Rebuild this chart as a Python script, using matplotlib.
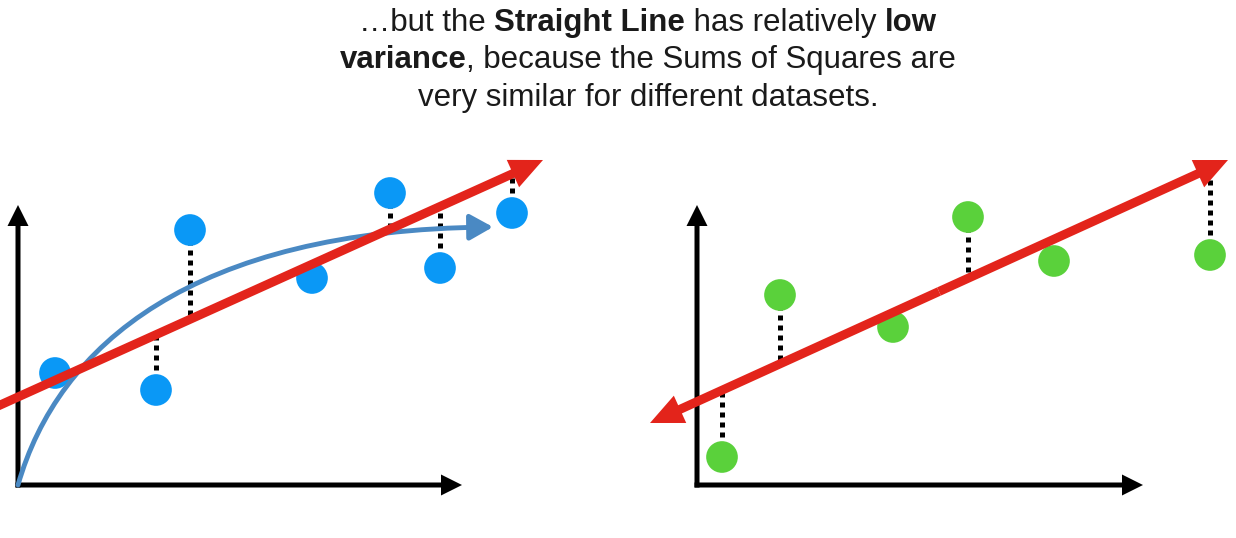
import matplotlib
matplotlib.use('Agg')
import matplotlib.pyplot as plt
from matplotlib.patches import FancyArrowPatch
from matplotlib.path import Path

# Données du panneau gauche (courbe + droite)
left_x = [0.74, 3.44, 2.76, 5.88, 7.44, 8.44, 9.88]
left_y = [2.24, 5.10, 1.90, 4.14, 5.84, 4.34, 5.44]
left_line_start = (-0.5, 1.535)
left_line_end = (10.5, 6.5)
# Courbe bleue : points de contrôle de Bézier
curve_x = [0.0, 0.8, 3.5, 9.5]
curve_y = [0.0, 2.8, 5.1, 5.16]

# Données du panneau droit (autre jeu de données)
right_x = [0.50, 1.66, 3.92, 5.42, 7.14, 10.26]
right_y = [0.56, 3.80, 3.16, 5.36, 4.48, 4.60]
right_line_start = (-0.94, 1.24)
right_line_end = (10.62, 6.50)

axis_x_len = [8.88, 8.92]
axis_y_len = [5.6, 5.6]

title_lines = [
    [("\u2026but the ", "normal"), ("Straight Line", "bold"),
     (" has relatively ", "normal"), ("low", "bold")],
    [("variance", "bold"), (", because the Sums of Squares are", "normal")],
    [("very similar for different datasets.", "normal")],
]

BLUE = "#0a98f6"
GREEN = "#5ad13b"
RED = "#e3241b"
CURVE = "#4a89c3"
RADIUS = 0.32  # rayon des points en unités de données

W, H = 1236, 538
fig = plt.figure(figsize=(W / 100, H / 100), dpi=100)
plt.rcParams['font.family'] = ['Liberation Sans', 'DejaVu Sans']


def make_panel(rect, origin_px):
    """Axes dont 1 unité = 50 px, origine au coin des flèches noires"""
    ax = fig.add_axes(rect)
    x0_px = rect[0] * W
    w_px = rect[2] * W
    ox, oy = origin_px
    ax.set_xlim((x0_px - ox) / 50, (x0_px + w_px - ox) / 50)
    ax.set_ylim((oy - H) / 50, oy / 50)
    ax.axis('off')
    return ax


def arrow(ax, start, end, color, width, head_w, head_l, z):
    ax.arrow(start[0], start[1], end[0] - start[0], end[1] - start[1],
             width=width, head_width=head_w, head_length=head_l,
             length_includes_head=True, color=color, lw=0, zorder=z,
             clip_on=False)


def draw_axes_arrows(ax, xlen, ylen):
    arrow(ax, (-0.05, 0), (xlen, 0), 'black', 0.1, 0.42, 0.42, 1)
    arrow(ax, (0, -0.05), (0, ylen), 'black', 0.1, 0.42, 0.42, 1)


def line_y(start, end, x):
    t = (x - start[0]) / (end[0] - start[0])
    return start[1] + t * (end[1] - start[1])


def draw_points(ax, xs, ys, color, start, end):
    for x, y in zip(xs, ys):
        ly = line_y(start, end, x)
        if abs(ly - y) - RADIUS > 0.2:
            ax.plot([x, x], [y, ly], color='black', lw=3.6,
                    linestyle=(0, (1, 1)), dash_capstyle='butt',
                    zorder=2, clip_on=False)
    ax.scatter(xs, ys, s=520, color=color, zorder=3, edgecolors='none',
               clip_on=False)


def red_arrow(ax, start, end, both=False):
    if both:
        mid = ((start[0] + end[0]) / 2, (start[1] + end[1]) / 2)
        arrow(ax, mid, end, RED, 0.18, 0.6, 0.66, 5)
        arrow(ax, mid, start, RED, 0.18, 0.6, 0.66, 5)
    else:
        arrow(ax, start, end, RED, 0.18, 0.6, 0.66, 5)


# Panneau gauche
axL = make_panel([0, 0, 0.5, 1], (18, 485))
draw_axes_arrows(axL, axis_x_len[0], axis_y_len[0])
draw_points(axL, left_x, left_y, BLUE, left_line_start, left_line_end)
curve_path = Path(list(zip(curve_x, curve_y)),
                  [Path.MOVETO, Path.CURVE4, Path.CURVE4, Path.CURVE4])
axL.add_patch(FancyArrowPatch(path=curve_path, transform=axL.transData,
                              arrowstyle='-|>,head_length=0.5,head_width=0.28',
                              mutation_scale=28, color=CURVE, lw=3.5,
                              zorder=4, clip_on=False))
red_arrow(axL, left_line_start, left_line_end)

# Panneau droit
axR = make_panel([0.5, 0, 0.5, 1], (697, 485))
draw_axes_arrows(axR, axis_x_len[1], axis_y_len[1])
draw_points(axR, right_x, right_y, GREEN, right_line_start, right_line_end)
red_arrow(axR, right_line_start, right_line_end, both=True)

# Titre avec parties en gras, centré ligne par ligne
renderer = fig.canvas.get_renderer()
baselines = [31, 68.5, 106]
for pieces, base in zip(title_lines, baselines):
    texts = []
    for s, w in pieces:
        t = fig.text(0, 1 - base / H, s, fontsize=22.5, fontweight=w,
                     color='#1a1a1a', va='baseline', ha='left')
        texts.append(t)
    widths = [t.get_window_extent(renderer).width for t in texts]
    xpos = 648 - sum(widths) / 2
    for t, wd in zip(texts, widths):
        t.set_x(xpos / W)
        xpos += wd

fig.savefig('out.png', dpi=100)
